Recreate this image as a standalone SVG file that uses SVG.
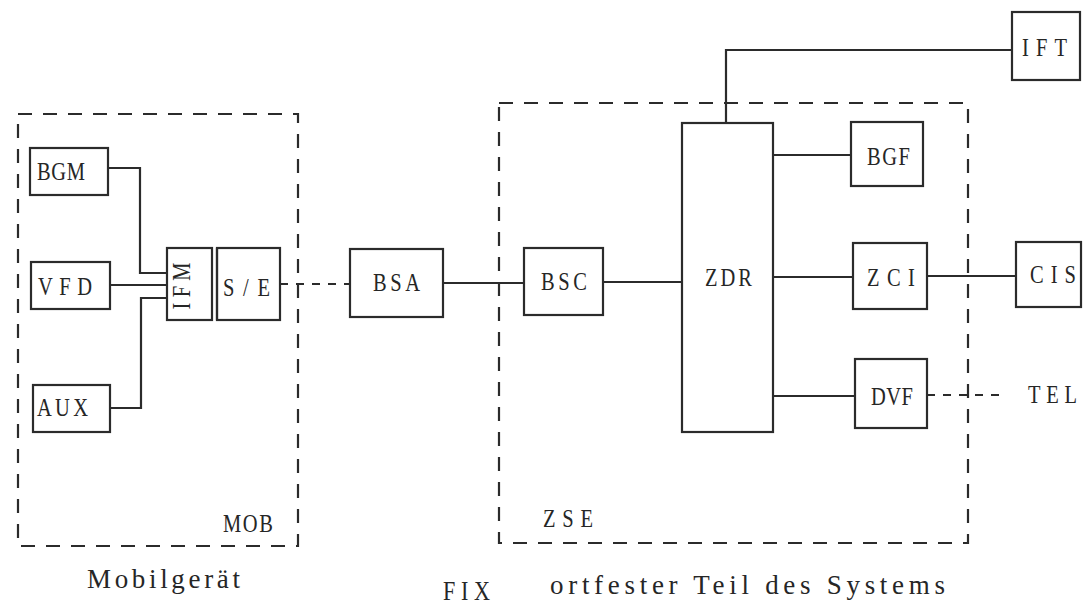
<svg xmlns="http://www.w3.org/2000/svg" width="1086" height="608" viewBox="0 0 1086 608">
<style>
.box{fill:none;stroke:#2b2b2b;stroke-width:2.2}
.frame{fill:none;stroke:#2b2b2b;stroke-width:2.2;stroke-dasharray:14 11}
.line{fill:none;stroke:#2b2b2b;stroke-width:2.2}
.dash{fill:none;stroke:#2b2b2b;stroke-width:2;stroke-dasharray:8 8}
text{font-family:"Liberation Serif","Times New Roman",serif;font-size:25px;fill:#262626;dominant-baseline:central}
.lbl{dominant-baseline:alphabetic}
.big{font-size:27px}
</style>
<rect width="1086" height="608" fill="#ffffff"/>
<g id="MOB"><rect class="frame" x="18" y="114" width="280" height="432"/><text class="lbl" transform="translate(223,532) scale(0.82,1)" textLength="61" lengthAdjust="spacing">MOB</text></g>
<g id="ZSE"><rect class="frame" x="499" y="103" width="469" height="440"/><text class="lbl" transform="translate(543,527) scale(0.82,1)" textLength="61" lengthAdjust="spacing">ZSE</text></g>
<g id="connectors">
<path class="line" d="M108,168 H140 V273 H167"/>
<path class="line" d="M110,285 H167"/>
<path class="line" d="M110,408 H141 V298 H167"/>
<path class="dash" d="M280,284 H350"/>
<path class="line" d="M443,283 H524"/>
<path class="line" d="M603,282 H682"/>
<path class="line" d="M726,123 V50 H1012"/>
<path class="line" d="M773,155 H851"/>
<path class="line" d="M773,277 H853"/>
<path class="line" d="M927,276 H1016"/>
<path class="line" d="M773,396 H855"/>
<path class="dash" d="M927,395 H1005"/>
</g>
<g id="BGM"><rect class="box" x="30" y="148" width="78" height="47"/><text transform="translate(37,172) scale(0.82,1)" textLength="58.5" lengthAdjust="spacing">BGM</text></g>
<g id="VFD"><rect class="box" x="31" y="262" width="79" height="47"/><text transform="translate(38,287) scale(0.82,1)" textLength="65.9" lengthAdjust="spacing">VFD</text></g>
<g id="AUX"><rect class="box" x="33" y="385" width="77" height="47"/><text transform="translate(37,408) scale(0.82,1)" textLength="62.2" lengthAdjust="spacing">AUX</text></g>
<g id="IFM"><rect class="box" x="167" y="248" width="45" height="72"/><line class="line" x1="217" y1="248" x2="217" y2="320"/><text x="-28.6" y="0" transform="translate(182,286) rotate(-90) scale(0.82,1)" textLength="57.3" lengthAdjust="spacing">IFM</text></g>
<g id="SE"><rect class="box" x="217" y="248" width="63" height="72"/><text transform="translate(223,288) scale(0.82,1)" textLength="57.3" lengthAdjust="spacing">S/E</text></g>
<g id="BSA"><rect class="box" x="350" y="249" width="93" height="68"/><text transform="translate(373,283) scale(0.82,1)" textLength="57.3" lengthAdjust="spacing">BSA</text></g>
<g id="BSC"><rect class="box" x="524" y="248" width="79" height="67"/><text transform="translate(541,282) scale(0.82,1)" textLength="56.1" lengthAdjust="spacing">BSC</text></g>
<g id="ZDR"><rect class="box" x="682" y="123" width="91" height="309"/><text transform="translate(705,278) scale(0.82,1)" textLength="57.3" lengthAdjust="spacing">ZDR</text></g>
<g id="BGF"><rect class="box" x="851" y="122" width="72" height="64"/><text transform="translate(867,157) scale(0.82,1)" textLength="52.4" lengthAdjust="spacing">BGF</text></g>
<g id="ZCI"><rect class="box" x="853" y="243" width="74" height="66"/><text transform="translate(867,278) scale(0.82,1)" textLength="58.5" lengthAdjust="spacing">ZCI</text></g>
<g id="DVF"><rect class="box" x="855" y="359" width="72" height="69"/><text transform="translate(871,397) scale(0.82,1)" textLength="51.2" lengthAdjust="spacing">DVF</text></g>
<g id="IFT"><rect class="box" x="1012" y="12" width="68" height="68"/><text transform="translate(1022,48) scale(0.82,1)" textLength="54.9" lengthAdjust="spacing">IFT</text></g>
<g id="CIS"><rect class="box" x="1016" y="242" width="65" height="65"/><text transform="translate(1030,275) scale(0.82,1)" textLength="56.1" lengthAdjust="spacing">CIS</text></g>
<g id="TEL"><text transform="translate(1028,395) scale(0.82,1)" textLength="59.8" lengthAdjust="spacing">TEL</text></g>
<text class="lbl big" x="87" y="588" textLength="153" lengthAdjust="spacing">Mobilgerät</text>
<text class="lbl big" transform="translate(443,600) scale(0.82,1)" textLength="57.3" lengthAdjust="spacing">FIX</text>
<text class="lbl big" x="550" y="594" textLength="395" lengthAdjust="spacing">ortfester Teil des Systems</text>
</svg>
